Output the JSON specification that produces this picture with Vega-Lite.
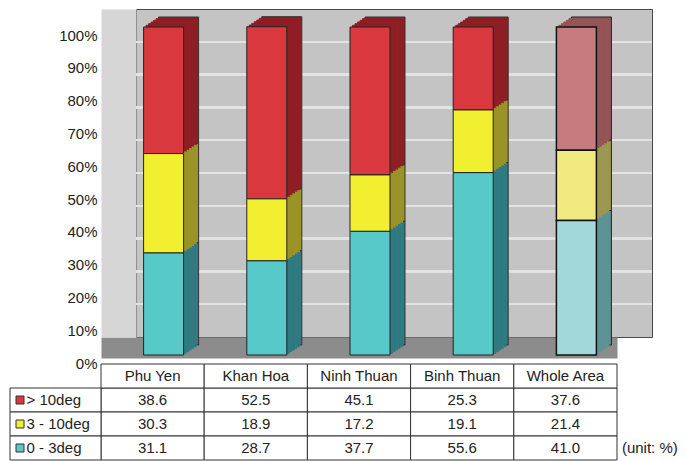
{
  "$schema": "https://vega.github.io/schema/vega-lite/v6.json",
  "width": 516,
  "height": 328,
  "autosize": "none",
  "padding": {"left": 136, "top": 9, "right": 34, "bottom": 124},
  "background": "white",
  "view": {"fill": "#c4c4c4", "stroke": "#4a4a4a", "strokeWidth": 1},
  "config": {"font": "Liberation Sans"},
  "data": {
    "values": [
      {"region": "Phu Yen", "class": "> 10deg", "value": 38.6},
      {"region": "Phu Yen", "class": "3 - 10deg", "value": 30.3},
      {"region": "Phu Yen", "class": "0 - 3deg", "value": 31.1},
      {"region": "Khan Hoa", "class": "> 10deg", "value": 52.5},
      {"region": "Khan Hoa", "class": "3 - 10deg", "value": 18.9},
      {"region": "Khan Hoa", "class": "0 - 3deg", "value": 28.7},
      {"region": "Ninh Thuan", "class": "> 10deg", "value": 45.1},
      {"region": "Ninh Thuan", "class": "3 - 10deg", "value": 17.2},
      {"region": "Ninh Thuan", "class": "0 - 3deg", "value": 37.7},
      {"region": "Binh Thuan", "class": "> 10deg", "value": 25.3},
      {"region": "Binh Thuan", "class": "3 - 10deg", "value": 19.1},
      {"region": "Binh Thuan", "class": "0 - 3deg", "value": 55.6},
      {"region": "Whole Area", "class": "> 10deg", "value": 37.6},
      {"region": "Whole Area", "class": "3 - 10deg", "value": 21.4},
      {"region": "Whole Area", "class": "0 - 3deg", "value": 41.0}
    ]
  },
  "resolve": {"scale": {"x": "independent", "y": "independent", "fill": "independent", "stroke": "independent"}},
  "layer": [
    {"mark": {"type": "rule", "color": "#e4e4e4", "strokeWidth": 1.5}, "encoding": {"y": {"datum": 10, "type": "quantitative", "scale": {"domain": [0, 100], "nice": false}, "axis": null}}},
    {"mark": {"type": "rule", "color": "#e4e4e4", "strokeWidth": 1.5}, "encoding": {"y": {"datum": 20, "type": "quantitative", "scale": {"domain": [0, 100], "nice": false}, "axis": null}}},
    {"mark": {"type": "rule", "color": "#e4e4e4", "strokeWidth": 1.5}, "encoding": {"y": {"datum": 30, "type": "quantitative", "scale": {"domain": [0, 100], "nice": false}, "axis": null}}},
    {"mark": {"type": "rule", "color": "#e4e4e4", "strokeWidth": 1.5}, "encoding": {"y": {"datum": 40, "type": "quantitative", "scale": {"domain": [0, 100], "nice": false}, "axis": null}}},
    {"mark": {"type": "rule", "color": "#e4e4e4", "strokeWidth": 1.5}, "encoding": {"y": {"datum": 50, "type": "quantitative", "scale": {"domain": [0, 100], "nice": false}, "axis": null}}},
    {"mark": {"type": "rule", "color": "#e4e4e4", "strokeWidth": 1.5}, "encoding": {"y": {"datum": 60, "type": "quantitative", "scale": {"domain": [0, 100], "nice": false}, "axis": null}}},
    {"mark": {"type": "rule", "color": "#e4e4e4", "strokeWidth": 1.5}, "encoding": {"y": {"datum": 70, "type": "quantitative", "scale": {"domain": [0, 100], "nice": false}, "axis": null}}},
    {"mark": {"type": "rule", "color": "#e4e4e4", "strokeWidth": 1.5}, "encoding": {"y": {"datum": 80, "type": "quantitative", "scale": {"domain": [0, 100], "nice": false}, "axis": null}}},
    {"mark": {"type": "rule", "color": "#e4e4e4", "strokeWidth": 1.5}, "encoding": {"y": {"datum": 90, "type": "quantitative", "scale": {"domain": [0, 100], "nice": false}, "axis": null}}},
    {
      "transform": [{"filter": "datum.region !== 'Whole Area'"}],
      "mark": {"type": "bar", "width": 40, "xOffset": -9, "yOffset": 8, "y2Offset": 8, "stroke": "#333", "strokeWidth": 1},
      "encoding": {
        "x": {"field": "region", "type": "nominal", "sort": null, "scale": {"domain": ["Phu Yen", "Khan Hoa", "Ninh Thuan", "Binh Thuan", "Whole Area"], "paddingInner": 0, "paddingOuter": 0}, "axis": null},
        "y": {
          "field": "value", "type": "quantitative", "stack": "zero",
          "scale": {"domain": [0, 100], "nice": false},
          "axis": {
            "orient": "left", "values": [0, 10, 20, 30, 40, 50, 60, 70, 80, 90, 100],
            "labelExpr": "datum.value + '%'", "title": null, "zindex": 0,
            "offset": 17.5, "domain": true, "domainColor": "#d6d6d6", "domainWidth": 35,
            "ticks": false, "labelPadding": 21.5, "labelOffset": 26,
            "labelFont": "Liberation Sans", "labelFontSize": 15, "labelColor": "#222",
            "labelFlush": false, "labelOverlap": false, "labelBound": false,
            "grid": false
          }
        },
        "order": {"field": "class", "sort": "ascending"},
        "fill": {"field": "class", "type": "nominal", "scale": {"domain": ["0 - 3deg", "3 - 10deg", "> 10deg"], "range": ["#2f7b80", "#9a9428", "#8f1f25"]}, "legend": null}
      }
    },
    {
      "transform": [{"filter": "datum.region !== 'Whole Area'"}],
      "mark": {"type": "bar", "width": 40, "xOffset": -11.5, "yOffset": 9.667, "y2Offset": 9.667, "strokeWidth": 1},
      "encoding": {
        "x": {"field": "region", "type": "nominal", "sort": null, "scale": {"domain": ["Phu Yen", "Khan Hoa", "Ninh Thuan", "Binh Thuan", "Whole Area"], "paddingInner": 0, "paddingOuter": 0}, "axis": null},
        "y": {"field": "value", "type": "quantitative", "stack": "zero", "scale": {"domain": [0, 100], "nice": false}, "axis": null},
        "order": {"field": "class", "sort": "ascending"},
        "fill": {"field": "class", "type": "nominal", "scale": {"domain": ["0 - 3deg", "3 - 10deg", "> 10deg"], "range": ["#2f7b80", "#9a9428", "#8f1f25"]}, "legend": null},
        "stroke": {"field": "class", "type": "nominal", "scale": {"domain": ["0 - 3deg", "3 - 10deg", "> 10deg"], "range": ["#2f7b80", "#9a9428", "#8f1f25"]}, "legend": null}
      }
    },
    {
      "transform": [{"filter": "datum.region !== 'Whole Area'"}],
      "mark": {"type": "bar", "width": 40, "xOffset": -14, "yOffset": 11.333, "y2Offset": 11.333, "strokeWidth": 1},
      "encoding": {
        "x": {"field": "region", "type": "nominal", "sort": null, "scale": {"domain": ["Phu Yen", "Khan Hoa", "Ninh Thuan", "Binh Thuan", "Whole Area"], "paddingInner": 0, "paddingOuter": 0}, "axis": null},
        "y": {"field": "value", "type": "quantitative", "stack": "zero", "scale": {"domain": [0, 100], "nice": false}, "axis": null},
        "order": {"field": "class", "sort": "ascending"},
        "fill": {"field": "class", "type": "nominal", "scale": {"domain": ["0 - 3deg", "3 - 10deg", "> 10deg"], "range": ["#2f7b80", "#9a9428", "#8f1f25"]}, "legend": null},
        "stroke": {"field": "class", "type": "nominal", "scale": {"domain": ["0 - 3deg", "3 - 10deg", "> 10deg"], "range": ["#2f7b80", "#9a9428", "#8f1f25"]}, "legend": null}
      }
    },
    {
      "transform": [{"filter": "datum.region !== 'Whole Area'"}],
      "mark": {"type": "bar", "width": 40, "xOffset": -16.5, "yOffset": 13, "y2Offset": 13, "strokeWidth": 1},
      "encoding": {
        "x": {"field": "region", "type": "nominal", "sort": null, "scale": {"domain": ["Phu Yen", "Khan Hoa", "Ninh Thuan", "Binh Thuan", "Whole Area"], "paddingInner": 0, "paddingOuter": 0}, "axis": null},
        "y": {"field": "value", "type": "quantitative", "stack": "zero", "scale": {"domain": [0, 100], "nice": false}, "axis": null},
        "order": {"field": "class", "sort": "ascending"},
        "fill": {"field": "class", "type": "nominal", "scale": {"domain": ["0 - 3deg", "3 - 10deg", "> 10deg"], "range": ["#2f7b80", "#9a9428", "#8f1f25"]}, "legend": null},
        "stroke": {"field": "class", "type": "nominal", "scale": {"domain": ["0 - 3deg", "3 - 10deg", "> 10deg"], "range": ["#2f7b80", "#9a9428", "#8f1f25"]}, "legend": null}
      }
    },
    {
      "transform": [{"filter": "datum.region !== 'Whole Area'"}],
      "mark": {"type": "bar", "width": 40, "xOffset": -19, "yOffset": 14.667, "y2Offset": 14.667, "strokeWidth": 1},
      "encoding": {
        "x": {"field": "region", "type": "nominal", "sort": null, "scale": {"domain": ["Phu Yen", "Khan Hoa", "Ninh Thuan", "Binh Thuan", "Whole Area"], "paddingInner": 0, "paddingOuter": 0}, "axis": null},
        "y": {"field": "value", "type": "quantitative", "stack": "zero", "scale": {"domain": [0, 100], "nice": false}, "axis": null},
        "order": {"field": "class", "sort": "ascending"},
        "fill": {"field": "class", "type": "nominal", "scale": {"domain": ["0 - 3deg", "3 - 10deg", "> 10deg"], "range": ["#2f7b80", "#9a9428", "#8f1f25"]}, "legend": null},
        "stroke": {"field": "class", "type": "nominal", "scale": {"domain": ["0 - 3deg", "3 - 10deg", "> 10deg"], "range": ["#2f7b80", "#9a9428", "#8f1f25"]}, "legend": null}
      }
    },
    {
      "transform": [{"filter": "datum.region !== 'Whole Area'"}],
      "mark": {"type": "bar", "width": 40, "xOffset": -21.5, "yOffset": 16.333, "y2Offset": 16.333, "strokeWidth": 1},
      "encoding": {
        "x": {"field": "region", "type": "nominal", "sort": null, "scale": {"domain": ["Phu Yen", "Khan Hoa", "Ninh Thuan", "Binh Thuan", "Whole Area"], "paddingInner": 0, "paddingOuter": 0}, "axis": null},
        "y": {"field": "value", "type": "quantitative", "stack": "zero", "scale": {"domain": [0, 100], "nice": false}, "axis": null},
        "order": {"field": "class", "sort": "ascending"},
        "fill": {"field": "class", "type": "nominal", "scale": {"domain": ["0 - 3deg", "3 - 10deg", "> 10deg"], "range": ["#2f7b80", "#9a9428", "#8f1f25"]}, "legend": null},
        "stroke": {"field": "class", "type": "nominal", "scale": {"domain": ["0 - 3deg", "3 - 10deg", "> 10deg"], "range": ["#2f7b80", "#9a9428", "#8f1f25"]}, "legend": null}
      }
    },
    {
      "transform": [{"filter": "datum.region === 'Whole Area'"}],
      "mark": {"type": "bar", "width": 40, "xOffset": -9, "yOffset": 8, "y2Offset": 8, "stroke": "#222", "strokeWidth": 1},
      "encoding": {
        "x": {"field": "region", "type": "nominal", "sort": null, "scale": {"domain": ["Phu Yen", "Khan Hoa", "Ninh Thuan", "Binh Thuan", "Whole Area"], "paddingInner": 0, "paddingOuter": 0}, "axis": null},
        "y": {"field": "value", "type": "quantitative", "stack": "zero", "scale": {"domain": [0, 100], "nice": false}, "axis": null},
        "order": {"field": "class", "sort": "ascending"},
        "fill": {"field": "class", "type": "nominal", "scale": {"domain": ["0 - 3deg", "3 - 10deg", "> 10deg"], "range": ["#5e9396", "#9c9852", "#955558"]}, "legend": null}
      }
    },
    {
      "transform": [{"filter": "datum.region === 'Whole Area'"}],
      "mark": {"type": "bar", "width": 40, "xOffset": -11.5, "yOffset": 9.667, "y2Offset": 9.667, "strokeWidth": 1},
      "encoding": {
        "x": {"field": "region", "type": "nominal", "sort": null, "scale": {"domain": ["Phu Yen", "Khan Hoa", "Ninh Thuan", "Binh Thuan", "Whole Area"], "paddingInner": 0, "paddingOuter": 0}, "axis": null},
        "y": {"field": "value", "type": "quantitative", "stack": "zero", "scale": {"domain": [0, 100], "nice": false}, "axis": null},
        "order": {"field": "class", "sort": "ascending"},
        "fill": {"field": "class", "type": "nominal", "scale": {"domain": ["0 - 3deg", "3 - 10deg", "> 10deg"], "range": ["#5e9396", "#9c9852", "#955558"]}, "legend": null},
        "stroke": {"field": "class", "type": "nominal", "scale": {"domain": ["0 - 3deg", "3 - 10deg", "> 10deg"], "range": ["#5e9396", "#9c9852", "#955558"]}, "legend": null}
      }
    },
    {
      "transform": [{"filter": "datum.region === 'Whole Area'"}],
      "mark": {"type": "bar", "width": 40, "xOffset": -14, "yOffset": 11.333, "y2Offset": 11.333, "strokeWidth": 1},
      "encoding": {
        "x": {"field": "region", "type": "nominal", "sort": null, "scale": {"domain": ["Phu Yen", "Khan Hoa", "Ninh Thuan", "Binh Thuan", "Whole Area"], "paddingInner": 0, "paddingOuter": 0}, "axis": null},
        "y": {"field": "value", "type": "quantitative", "stack": "zero", "scale": {"domain": [0, 100], "nice": false}, "axis": null},
        "order": {"field": "class", "sort": "ascending"},
        "fill": {"field": "class", "type": "nominal", "scale": {"domain": ["0 - 3deg", "3 - 10deg", "> 10deg"], "range": ["#5e9396", "#9c9852", "#955558"]}, "legend": null},
        "stroke": {"field": "class", "type": "nominal", "scale": {"domain": ["0 - 3deg", "3 - 10deg", "> 10deg"], "range": ["#5e9396", "#9c9852", "#955558"]}, "legend": null}
      }
    },
    {
      "transform": [{"filter": "datum.region === 'Whole Area'"}],
      "mark": {"type": "bar", "width": 40, "xOffset": -16.5, "yOffset": 13, "y2Offset": 13, "strokeWidth": 1},
      "encoding": {
        "x": {"field": "region", "type": "nominal", "sort": null, "scale": {"domain": ["Phu Yen", "Khan Hoa", "Ninh Thuan", "Binh Thuan", "Whole Area"], "paddingInner": 0, "paddingOuter": 0}, "axis": null},
        "y": {"field": "value", "type": "quantitative", "stack": "zero", "scale": {"domain": [0, 100], "nice": false}, "axis": null},
        "order": {"field": "class", "sort": "ascending"},
        "fill": {"field": "class", "type": "nominal", "scale": {"domain": ["0 - 3deg", "3 - 10deg", "> 10deg"], "range": ["#5e9396", "#9c9852", "#955558"]}, "legend": null},
        "stroke": {"field": "class", "type": "nominal", "scale": {"domain": ["0 - 3deg", "3 - 10deg", "> 10deg"], "range": ["#5e9396", "#9c9852", "#955558"]}, "legend": null}
      }
    },
    {
      "transform": [{"filter": "datum.region === 'Whole Area'"}],
      "mark": {"type": "bar", "width": 40, "xOffset": -19, "yOffset": 14.667, "y2Offset": 14.667, "strokeWidth": 1},
      "encoding": {
        "x": {"field": "region", "type": "nominal", "sort": null, "scale": {"domain": ["Phu Yen", "Khan Hoa", "Ninh Thuan", "Binh Thuan", "Whole Area"], "paddingInner": 0, "paddingOuter": 0}, "axis": null},
        "y": {"field": "value", "type": "quantitative", "stack": "zero", "scale": {"domain": [0, 100], "nice": false}, "axis": null},
        "order": {"field": "class", "sort": "ascending"},
        "fill": {"field": "class", "type": "nominal", "scale": {"domain": ["0 - 3deg", "3 - 10deg", "> 10deg"], "range": ["#5e9396", "#9c9852", "#955558"]}, "legend": null},
        "stroke": {"field": "class", "type": "nominal", "scale": {"domain": ["0 - 3deg", "3 - 10deg", "> 10deg"], "range": ["#5e9396", "#9c9852", "#955558"]}, "legend": null}
      }
    },
    {
      "transform": [{"filter": "datum.region === 'Whole Area'"}],
      "mark": {"type": "bar", "width": 40, "xOffset": -21.5, "yOffset": 16.333, "y2Offset": 16.333, "strokeWidth": 1},
      "encoding": {
        "x": {"field": "region", "type": "nominal", "sort": null, "scale": {"domain": ["Phu Yen", "Khan Hoa", "Ninh Thuan", "Binh Thuan", "Whole Area"], "paddingInner": 0, "paddingOuter": 0}, "axis": null},
        "y": {"field": "value", "type": "quantitative", "stack": "zero", "scale": {"domain": [0, 100], "nice": false}, "axis": null},
        "order": {"field": "class", "sort": "ascending"},
        "fill": {"field": "class", "type": "nominal", "scale": {"domain": ["0 - 3deg", "3 - 10deg", "> 10deg"], "range": ["#5e9396", "#9c9852", "#955558"]}, "legend": null},
        "stroke": {"field": "class", "type": "nominal", "scale": {"domain": ["0 - 3deg", "3 - 10deg", "> 10deg"], "range": ["#5e9396", "#9c9852", "#955558"]}, "legend": null}
      }
    },
    {
      "transform": [{"filter": "datum.region !== 'Whole Area'"}],
      "mark": {"type": "bar", "width": 40, "xOffset": -24, "yOffset": 18, "y2Offset": 18, "stroke": "#222", "strokeWidth": 1},
      "encoding": {
        "x": {"field": "region", "type": "nominal", "sort": null, "scale": {"domain": ["Phu Yen", "Khan Hoa", "Ninh Thuan", "Binh Thuan", "Whole Area"], "paddingInner": 0, "paddingOuter": 0}, "axis": null},
        "y": {"field": "value", "type": "quantitative", "stack": "zero", "scale": {"domain": [0, 100], "nice": false}, "axis": null},
        "order": {"field": "class", "sort": "ascending"},
        "fill": {"field": "class", "type": "nominal", "scale": {"domain": ["0 - 3deg", "3 - 10deg", "> 10deg"], "range": ["#58c9c9", "#f2ee30", "#d8383e"]}, "legend": null}
      }
    },
    {
      "transform": [{"filter": "datum.region === 'Whole Area'"}],
      "mark": {"type": "bar", "width": 40, "xOffset": -24, "yOffset": 18, "y2Offset": 18, "stroke": "#111", "strokeWidth": 1.5},
      "encoding": {
        "x": {"field": "region", "type": "nominal", "sort": null, "scale": {"domain": ["Phu Yen", "Khan Hoa", "Ninh Thuan", "Binh Thuan", "Whole Area"], "paddingInner": 0, "paddingOuter": 0}, "axis": null},
        "y": {"field": "value", "type": "quantitative", "stack": "zero", "scale": {"domain": [0, 100], "nice": false}, "axis": null},
        "order": {"field": "class", "sort": "ascending"},
        "fill": {"field": "class", "type": "nominal", "scale": {"domain": ["0 - 3deg", "3 - 10deg", "> 10deg"], "range": ["#a3d8da", "#f0ea80", "#c67b7e"]}, "legend": null}
      }
    },
    {
      "mark": {"type": "rect", "fill": "white", "stroke": "#333", "strokeWidth": 1},
      "encoding": {
        "x": {
          "field": "region", "type": "nominal", "sort": null,
          "scale": {"domain": ["Phu Yen", "Khan Hoa", "Ninh Thuan", "Binh Thuan", "Whole Area"], "range": [-35, 481], "paddingInner": 0, "paddingOuter": 0},
          "axis": {"orient": "bottom", "offset": 10.5, "zindex": 0, "domain": true, "domainColor": "#8c8c8c", "domainWidth": 21, "labels": false, "ticks": false, "grid": false, "title": null}
        },
        "y": {"field": "class", "type": "nominal", "sort": null, "scale": {"domain": ["header", "> 10deg", "3 - 10deg", "0 - 3deg"], "range": [355, 451], "paddingInner": 0, "paddingOuter": 0}, "axis": null}
      }
    },
    {
      "transform": [{"filter": "datum.class === '> 10deg'"}],
      "mark": {"type": "rect", "fill": "white", "stroke": "#333", "strokeWidth": 1},
      "encoding": {
        "x": {"field": "region", "type": "nominal", "sort": null, "scale": {"domain": ["Phu Yen", "Khan Hoa", "Ninh Thuan", "Binh Thuan", "Whole Area"], "range": [-35, 481], "paddingInner": 0, "paddingOuter": 0}, "axis": null},
        "y": {"datum": "header", "type": "nominal", "scale": {"domain": ["header", "> 10deg", "3 - 10deg", "0 - 3deg"], "range": [355, 451], "paddingInner": 0, "paddingOuter": 0}, "axis": null}
      }
    },
    {
      "transform": [{"filter": "datum.class === '> 10deg'"}],
      "mark": {"type": "text", "font": "Liberation Sans", "fontSize": 15, "color": "#222", "align": "center", "baseline": "middle"},
      "encoding": {
        "x": {"field": "region", "type": "nominal", "sort": null, "scale": {"domain": ["Phu Yen", "Khan Hoa", "Ninh Thuan", "Binh Thuan", "Whole Area"], "range": [-35, 481], "paddingInner": 0, "paddingOuter": 0}, "axis": null},
        "y": {"datum": "header", "type": "nominal", "scale": {"domain": ["header", "> 10deg", "3 - 10deg", "0 - 3deg"], "range": [355, 451], "paddingInner": 0, "paddingOuter": 0}, "axis": null},
        "text": {"field": "region", "type": "nominal"}
      }
    },
    {
      "mark": {"type": "text", "font": "Liberation Sans", "fontSize": 15, "color": "#222", "align": "center", "baseline": "middle"},
      "encoding": {
        "x": {"field": "region", "type": "nominal", "sort": null, "scale": {"domain": ["Phu Yen", "Khan Hoa", "Ninh Thuan", "Binh Thuan", "Whole Area"], "range": [-35, 481], "paddingInner": 0, "paddingOuter": 0}, "axis": null},
        "y": {"field": "class", "type": "nominal", "sort": null, "scale": {"domain": ["header", "> 10deg", "3 - 10deg", "0 - 3deg"], "range": [355, 451], "paddingInner": 0, "paddingOuter": 0}, "axis": null},
        "text": {"field": "value", "type": "quantitative", "format": ".1f"}
      }
    },
    {
      "transform": [{"filter": "datum.region === 'Whole Area' && datum.class === '0 - 3deg'"}],
      "mark": {"type": "text", "font": "Liberation Sans", "fontSize": 15, "color": "#222", "align": "left", "baseline": "middle", "xOffset": 56.5},
      "encoding": {
        "x": {"field": "region", "type": "nominal", "sort": null, "scale": {"domain": ["Phu Yen", "Khan Hoa", "Ninh Thuan", "Binh Thuan", "Whole Area"], "range": [-35, 481], "paddingInner": 0, "paddingOuter": 0}, "axis": null},
        "y": {"field": "class", "type": "nominal", "sort": null, "scale": {"domain": ["header", "> 10deg", "3 - 10deg", "0 - 3deg"], "range": [355, 451], "paddingInner": 0, "paddingOuter": 0}, "axis": null},
        "text": {"value": "(unit: %)"}
      }
    },
    {
      "transform": [{"filter": "datum.region === 'Phu Yen'"}],
      "mark": {"type": "rect", "fill": "white", "stroke": "#333", "strokeWidth": 1},
      "encoding": {
        "x": {"datum": "key", "type": "nominal", "scale": {"domain": ["key"], "range": [-126, -35], "paddingInner": 0, "paddingOuter": 0}, "axis": null},
        "y": {"field": "class", "type": "nominal", "sort": null, "scale": {"domain": ["header", "> 10deg", "3 - 10deg", "0 - 3deg"], "range": [355, 451], "paddingInner": 0, "paddingOuter": 0}, "axis": null}
      }
    },
    {
      "transform": [{"filter": "datum.region === 'Phu Yen'"}],
      "mark": {"type": "point", "shape": "square", "filled": true, "size": 64, "stroke": "#333", "strokeWidth": 1, "opacity": 1, "xOffset": -35.5},
      "encoding": {
        "x": {"datum": "key", "type": "nominal", "scale": {"domain": ["key"], "range": [-126, -35], "paddingInner": 0, "paddingOuter": 0}, "axis": null},
        "y": {"field": "class", "type": "nominal", "sort": null, "scale": {"domain": ["header", "> 10deg", "3 - 10deg", "0 - 3deg"], "range": [355, 451], "paddingInner": 0, "paddingOuter": 0}, "axis": null},
        "fill": {"field": "class", "type": "nominal", "scale": {"domain": ["0 - 3deg", "3 - 10deg", "> 10deg"], "range": ["#58c9c9", "#f2ee30", "#d8383e"]}, "legend": null}
      }
    },
    {
      "transform": [{"filter": "datum.region === 'Phu Yen'"}],
      "mark": {"type": "text", "font": "Liberation Sans", "fontSize": 15, "color": "#222", "align": "left", "baseline": "middle", "xOffset": -29},
      "encoding": {
        "x": {"datum": "key", "type": "nominal", "scale": {"domain": ["key"], "range": [-126, -35], "paddingInner": 0, "paddingOuter": 0}, "axis": null},
        "y": {"field": "class", "type": "nominal", "sort": null, "scale": {"domain": ["header", "> 10deg", "3 - 10deg", "0 - 3deg"], "range": [355, 451], "paddingInner": 0, "paddingOuter": 0}, "axis": null},
        "text": {"field": "class", "type": "nominal"}
      }
    }
  ]
}
